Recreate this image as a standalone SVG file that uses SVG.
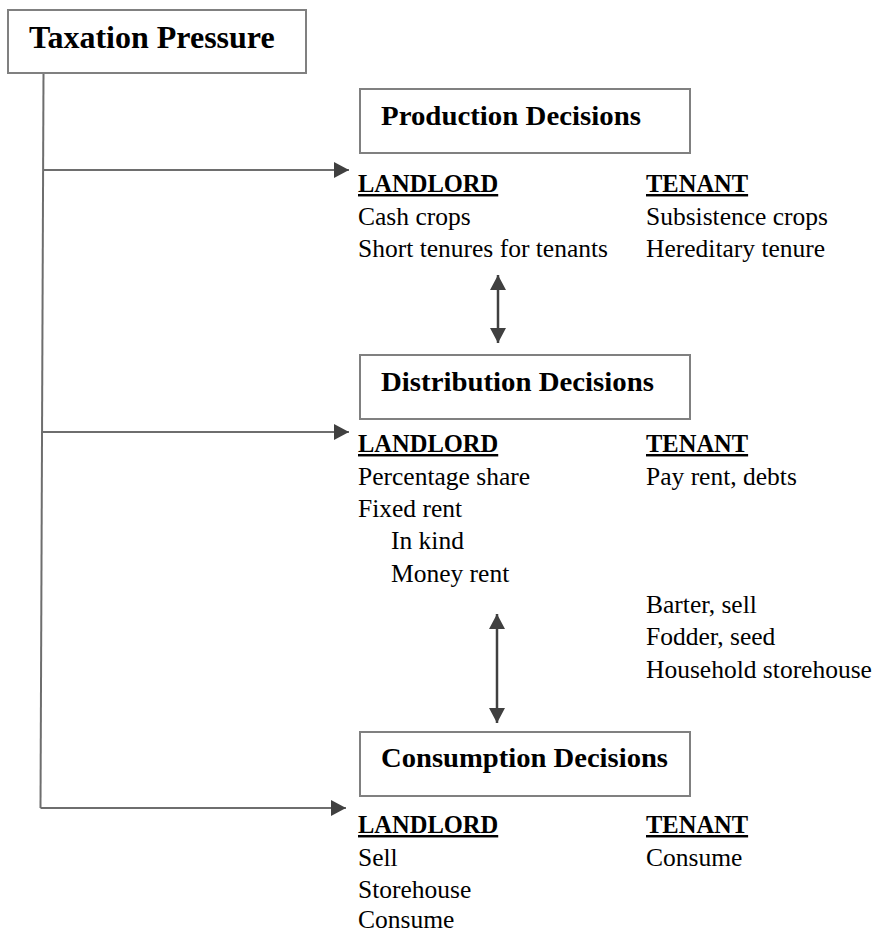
<svg xmlns="http://www.w3.org/2000/svg" width="877" height="933" viewBox="0 0 877 933">
<style>
  .box { fill: #ffffff; stroke: #808080; stroke-width: 2; }
  .h1 { font-family: "Liberation Serif", "DejaVu Serif", serif; font-weight: bold; font-size: 32px; fill: #000; }
  .h2 { font-family: "Liberation Serif", "DejaVu Serif", serif; font-weight: bold; font-size: 27.5px; fill: #000; }
  .sub { font-family: "Liberation Serif", "DejaVu Serif", serif; font-weight: bold; font-size: 24.5px; fill: #000; text-decoration: underline; }
  .t { font-family: "Liberation Serif", "DejaVu Serif", serif; font-size: 25.5px; fill: #000; }
  .conn { fill: none; stroke: #6e6e6e; stroke-width: 2; }
  .dbl { fill: none; stroke: #404040; stroke-width: 2.5; }
</style>
<defs>
  <marker id="ah" markerUnits="userSpaceOnUse" markerWidth="16" markerHeight="16" refX="15" refY="8" orient="auto">
    <path d="M0,0 L15,8 L0,16 Z" fill="#404040"/>
  </marker>
  <marker id="ahs" markerUnits="userSpaceOnUse" markerWidth="16" markerHeight="16" refX="0" refY="8" orient="auto">
    <path d="M15,0 L0,8 L15,16 Z" fill="#404040"/>
  </marker>
</defs>

<g id="connectors">
  <path class="conn" d="M43.5,73 L40.5,808"/>
  <path class="conn" d="M43.5,170 L349,170" marker-end="url(#ah)"/>
  <path class="conn" d="M42,432 L349,432" marker-end="url(#ah)"/>
  <path class="conn" d="M40.5,808 L346,808" marker-end="url(#ah)"/>
  <path class="dbl" d="M498,275 L498,343" marker-start="url(#ahs)" marker-end="url(#ah)"/>
  <path class="dbl" d="M497,614 L497,723" marker-start="url(#ahs)" marker-end="url(#ah)"/>
</g>

<g id="taxation">
  <rect class="box" x="8" y="10" width="298" height="63"/>
  <text class="h1" x="29" y="48">Taxation Pressure</text>
</g>

<g id="production">
  <rect class="box" x="360" y="89" width="330" height="64"/>
  <text class="h2" x="381" y="125" textLength="260" lengthAdjust="spacingAndGlyphs">Production Decisions</text>
</g>
<g id="production-landlord">
  <text class="sub" x="358" y="192">LANDLORD</text>
  <text class="t" x="358" y="225">Cash crops</text>
  <text class="t" x="358" y="257">Short tenures for tenants</text>
</g>
<g id="production-tenant">
  <text class="sub" x="646" y="192">TENANT</text>
  <text class="t" x="646" y="225">Subsistence crops</text>
  <text class="t" x="646" y="257">Hereditary tenure</text>
</g>

<g id="distribution">
  <rect class="box" x="360" y="355" width="330" height="64"/>
  <text class="h2" x="381" y="391" textLength="273" lengthAdjust="spacingAndGlyphs">Distribution Decisions</text>
</g>
<g id="distribution-landlord">
  <text class="sub" x="358" y="452">LANDLORD</text>
  <text class="t" x="358" y="485">Percentage share</text>
  <text class="t" x="358" y="517">Fixed rent</text>
  <text class="t" x="391" y="549">In kind</text>
  <text class="t" x="391" y="582">Money rent</text>
</g>
<g id="distribution-tenant">
  <text class="sub" x="646" y="452">TENANT</text>
  <text class="t" x="646" y="485">Pay rent, debts</text>
  <text class="t" x="646" y="613">Barter, sell</text>
  <text class="t" x="646" y="645">Fodder, seed</text>
  <text class="t" x="646" y="678">Household storehouse</text>
</g>

<g id="consumption">
  <rect class="box" x="360" y="732" width="330" height="64"/>
  <text class="h2" x="381" y="767" textLength="287" lengthAdjust="spacingAndGlyphs">Consumption Decisions</text>
</g>
<g id="consumption-landlord">
  <text class="sub" x="358" y="833">LANDLORD</text>
  <text class="t" x="358" y="866">Sell</text>
  <text class="t" x="358" y="898">Storehouse</text>
  <text class="t" x="358" y="928">Consume</text>
</g>
<g id="consumption-tenant">
  <text class="sub" x="646" y="833">TENANT</text>
  <text class="t" x="646" y="866">Consume</text>
</g>
</svg>
